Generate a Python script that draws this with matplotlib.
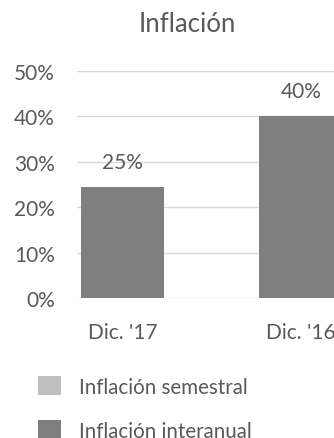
import matplotlib
matplotlib.use("Agg")
import matplotlib.pyplot as plt
from matplotlib.patches import Patch

# Data
categories = ["Dic. '17", "Dic. '16"]
interanual = [24.4, 40.0]
value_labels = ["25%", "40%"]
y_ticks = [0, 10, 20, 30, 40, 50]
series_names = ["Inflación semestral", "Inflación interanual"]

TEXT = "#595959"
GRID = "#d9d9d9"
COLORS = ["#bfbfbf", "#7f7f7f"]

plt.rcParams["font.family"] = ["Lato", "DejaVu Sans"]

W, H = 334, 439
fig = plt.figure(figsize=(W / 100, H / 100), dpi=100)

# Axes placed in pixels; right side runs off the figure (clipped like the source)
left_px, right_px = 77, 346.5
top_px, bottom_px = 72, 299
ax = fig.add_axes([
    left_px / W,
    (H - bottom_px) / H,
    (right_px - left_px) / W,
    (bottom_px - top_px) / H
])

x = list(range(len(categories)))
bars = ax.bar(x, interanual, width=0.468, color=COLORS[1], zorder=2)
ax.bar_label(bars, labels=value_labels, padding=11, fontsize=15, color=TEXT)

ax.set_xlim(-0.255, 1.255)
ax.set_ylim(0, 50)
ax.set_yticks(y_ticks)
ax.set_yticklabels([f"{t}%" for t in y_ticks])
ax.set_xticks(x)
ax.set_xticklabels(categories)
ax.tick_params(axis="y", length=0, pad=15.8, labelsize=15, labelcolor=TEXT)
ax.tick_params(axis="x", length=0, pad=17.5, labelsize=15, labelcolor=TEXT)
ax.grid(axis="y", color=GRID, linewidth=1, zorder=0)
ax.set_axisbelow(True)
for side in ["top", "right", "left", "bottom"]:
    ax.spines[side].set_visible(False)

# Title
fig.text(187 / W, (H - 32) / H, "Inflación", ha="center", va="baseline",
         fontsize=18.5, color=TEXT)

# Legend
handles = [Patch(facecolor=c, edgecolor="none") for c in COLORS]
fig.legend(
    handles, series_names,
    loc="upper left",
    bbox_to_anchor=(38 / W, (H - 377) / H),
    frameon=False,
    fontsize=14.8,
    labelcolor=TEXT,
    handlelength=1.12,
    handleheight=1.07,
    handletextpad=0.88,
    labelspacing=1.14,
    borderpad=0,
    borderaxespad=0
)

fig.savefig("out.png", dpi=100)
